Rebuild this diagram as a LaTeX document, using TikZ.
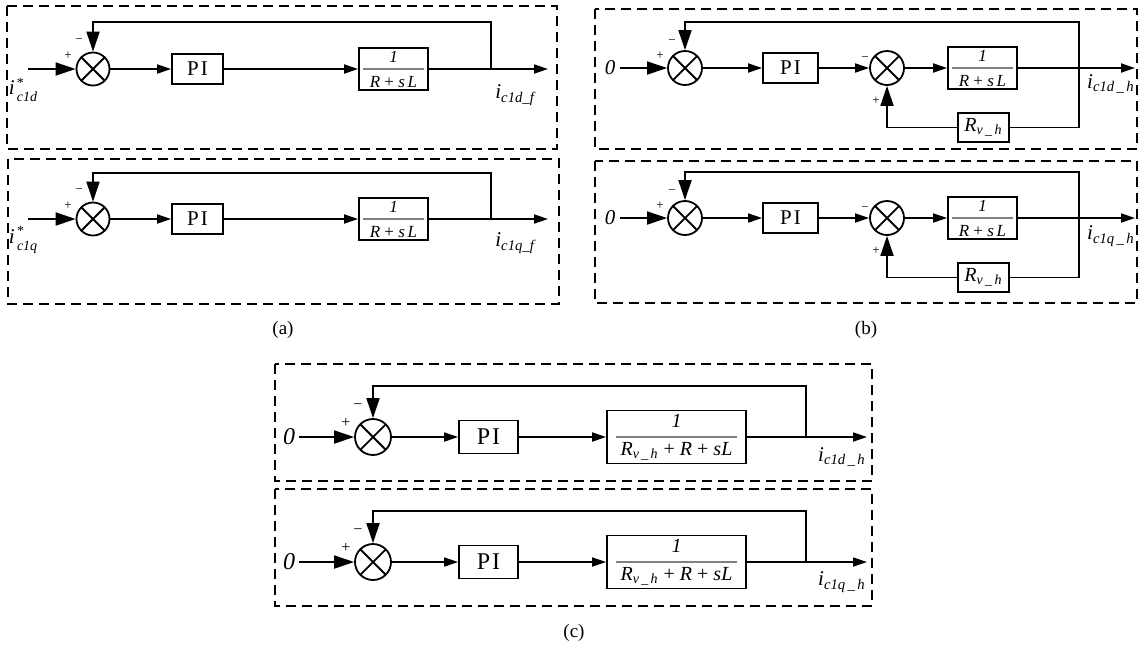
\documentclass[tikz,border=0pt]{standalone}
\usepackage{fontspec}
\setmainfont{Liberation Serif}
\usetikzlibrary{arrows.meta}
\newcommand{\starsub}[1]{\textit{i}\kern1.2pt\raisebox{-3.5pt}{\shortstack[l]{\fontsize{7}{7}\selectfont *\\[-0.5pt]\fontsize{7}{7}\selectfont\textit{#1}}}}
\tikzset{
    frame/.style={
        draw,
        dash pattern=on 5pt off 3pt,
        line width=0.75pt
    },
    sumnode/.style={
        circle,
        draw,
        line width=0.9pt,
        minimum size=16.5pt,
        inner sep=0pt,
        path picture={
            \draw[line width=0.9pt]
                (path picture bounding box.north west) -- (path picture bounding box.south east)
                (path picture bounding box.north east) -- (path picture bounding box.south west);
        }
    },
    piblock/.style={
        draw,
        line width=0.9pt,
        minimum width=25.5pt,
        minimum height=15pt,
        inner sep=0pt,
        font=\fontsize{10.5}{12}\selectfont
    },
    tfblock/.style={
        draw,
        line width=0.9pt,
        minimum width=34.5pt,
        minimum height=21pt,
        inner sep=0pt,
        align=center,
        font=\fontsize{8.5}{12.5}\selectfont
    },
    rvblock/.style={
        draw,
        line width=0.9pt,
        minimum width=25.5pt,
        minimum height=14.5pt,
        inner sep=0pt,
        font=\fontsize{10}{12}\selectfont
    },
    fracbar/.style={
        gray,
        line width=0.6pt
    },
    line/.style={
        -{Triangle[length=7pt,width=4.5pt]},
        line width=0.9pt
    },
    bigline/.style={
        -{Triangle[length=10pt,width=6.5pt]},
        line width=0.9pt
    },
    wire/.style={
        line width=0.9pt
    },
    signlabel/.style={
        inner sep=0pt,
        font=\fontsize{6.5}{7}\selectfont
    },
    siglabel/.style={
        inner sep=2pt,
        font=\fontsize{10.5}{11}\selectfont
    },
    caption/.style={
        font=\fontsize{9.5}{11}\selectfont
    }
}

\begin{document}
\begin{tikzpicture}[x=0.5pt, y=-0.5pt]

    \useasboundingbox (0,0) rectangle (1139,645);

    % (a) d-axis
    \draw[frame] (7,6) rectangle (557,149);
    \coordinate (a1in) at (28,69);
    \node[sumnode] (a1sum) at (93,69) {};
    \node[piblock] (a1pi) at (197.5,69) {P\kern1pt I};
    \node[tfblock] (a1tf) at (393.5,69) {\textit{1}\\\textit{R} + \textit{s\,L}};
    \coordinate (a1br) at (491,69);
    \coordinate (a1top) at (491,22);
    \coordinate (a1out) at (548,69);
    \node[siglabel] (a1ref) at (23,90) {\starsub{c1d}};
    \node[siglabel] (a1lab) at (516,95) {\textit{i}\textsubscript{\textit{c1d\_f}}};
    \node[signlabel] (a1plus) at (68,56) {+};
    \node[signlabel] (a1minus) at (79,41) {−};

    \draw[bigline] (a1in) -- (a1sum);
    \draw[line] (a1sum) -- (a1pi);
    \draw[line] (a1pi) -- (a1tf);
    \draw[line] (a1tf) -- (a1out);
    \draw[bigline] (a1br) -- (a1top) -| (a1sum);
    \draw[fracbar] ([xshift=2.5pt]a1tf.west) -- ([xshift=-2.5pt]a1tf.east);

    % (a) q-axis
    \draw[frame] (8,159) rectangle (559,304);
    \coordinate (a2in) at (28,219);
    \node[sumnode] (a2sum) at (93,219) {};
    \node[piblock] (a2pi) at (197.5,219) {P\kern1pt I};
    \node[tfblock] (a2tf) at (393.5,219) {\textit{1}\\\textit{R} + \textit{s\,L}};
    \coordinate (a2br) at (491,219);
    \coordinate (a2top) at (491,173);
    \coordinate (a2out) at (548,219);
    \node[siglabel] (a2ref) at (23,240) {\starsub{c1q}};
    \node[siglabel] (a2lab) at (516,243) {\textit{i}\textsubscript{\textit{c1q\_f}}};
    \node[signlabel] (a2plus) at (68,206) {+};
    \node[signlabel] (a2minus) at (79,191) {−};

    \draw[bigline] (a2in) -- (a2sum);
    \draw[line] (a2sum) -- (a2pi);
    \draw[line] (a2pi) -- (a2tf);
    \draw[line] (a2tf) -- (a2out);
    \draw[bigline] (a2br) -- (a2top) -| (a2sum);
    \draw[fracbar] ([xshift=2.5pt]a2tf.west) -- ([xshift=-2.5pt]a2tf.east);

    \node[caption] (acap) at (283,330) {(a)};

    % (b) d-axis
    \draw[frame] (595,9) rectangle (1137,149);
    \node[siglabel] (b1zero) at (610,68) {\textit{0}};
    \node[sumnode, minimum size=17pt] (b1sum) at (685,68) {};
    \node[piblock, minimum width=27.5pt] (b1pi) at (790.5,68) {P\kern1pt I};
    \node[sumnode, minimum size=17pt] (b1sum2) at (887,68) {};
    \node[tfblock] (b1tf) at (982.5,68) {\textit{1}\\\textit{R} + \textit{s\,L}};
    \node[rvblock] (b1rv) at (983.5,127.5) {\textit{R}\textsubscript{\textit{v\,\_\,h}}};
    \coordinate (b1br) at (1079,68);
    \coordinate (b1top) at (1079,22);
    \coordinate (b1out) at (1135,68);
    \node[siglabel] (b1lab) at (1111,84) {\textit{i}\textsubscript{\textit{c1d\,\_\,h}}};
    \node[signlabel] (b1plus) at (660,56) {+};
    \node[signlabel] (b1minus) at (672,42) {−};
    \node[signlabel] (b1minus2) at (865,59) {−};
    \node[signlabel] (b1plus2) at (876,101) {+};

    \draw[bigline] (b1zero) -- (b1sum);
    \draw[line] (b1sum) -- (b1pi);
    \draw[line] (b1pi) -- (b1sum2);
    \draw[line] (b1sum2) -- (b1tf);
    \draw[line] (b1tf) -- (b1out);
    \draw[bigline] (b1br) -- (b1top) -| (b1sum);
    \draw[wire] (b1br) |- (b1rv);
    \draw[bigline] (b1rv) -| (b1sum2);
    \draw[fracbar] ([xshift=2.5pt]b1tf.west) -- ([xshift=-2.5pt]b1tf.east);

    % (b) q-axis
    \draw[frame] (595,161) rectangle (1137,303);
    \node[siglabel] (b2zero) at (610,218) {\textit{0}};
    \node[sumnode, minimum size=17pt] (b2sum) at (685,218) {};
    \node[piblock, minimum width=27.5pt] (b2pi) at (790.5,218) {P\kern1pt I};
    \node[sumnode, minimum size=17pt] (b2sum2) at (887,218) {};
    \node[tfblock] (b2tf) at (982.5,218) {\textit{1}\\\textit{R} + \textit{s\,L}};
    \node[rvblock] (b2rv) at (983.5,277.5) {\textit{R}\textsubscript{\textit{v\,\_\,h}}};
    \coordinate (b2br) at (1079,218);
    \coordinate (b2top) at (1079,172);
    \coordinate (b2out) at (1135,218);
    \node[siglabel] (b2lab) at (1111,236) {\textit{i}\textsubscript{\textit{c1q\,\_\,h}}};
    \node[signlabel] (b2plus) at (660,206) {+};
    \node[signlabel] (b2minus) at (672,192) {−};
    \node[signlabel] (b2minus2) at (865,209) {−};
    \node[signlabel] (b2plus2) at (876,251) {+};

    \draw[bigline] (b2zero) -- (b2sum);
    \draw[line] (b2sum) -- (b2pi);
    \draw[line] (b2pi) -- (b2sum2);
    \draw[line] (b2sum2) -- (b2tf);
    \draw[line] (b2tf) -- (b2out);
    \draw[bigline] (b2br) -- (b2top) -| (b2sum);
    \draw[wire] (b2br) |- (b2rv);
    \draw[bigline] (b2rv) -| (b2sum2);
    \draw[fracbar] ([xshift=2.5pt]b2tf.west) -- ([xshift=-2.5pt]b2tf.east);

    \node[caption] (bcap) at (866,330) {(b)};

    % (c) d-axis
    \draw[frame] (275,364) rectangle (872,481);
    \node[siglabel, font=\fontsize{12}{13}\selectfont] (c1zero) at (289,437) {\textit{0}};
    \node[sumnode, minimum size=18pt] (c1sum) at (373,437) {};
    \node[piblock, minimum width=29.5pt, minimum height=16.5pt, font=\fontsize{12}{13}\selectfont] (c1pi) at (488.5,437) {P\kern1pt I};
    \node[tfblock, minimum width=69.5pt, minimum height=26.5pt, font=\fontsize{10}{14}\selectfont] (c1tf) at (676.5,437)
        {\textit{1}\\\textit{R}\textsubscript{\textit{v\,\_\,h}} + \textit{R} + \textit{sL}};
    \coordinate (c1br) at (806,437);
    \coordinate (c1top) at (806,386);
    \coordinate (c1out) at (867,437);
    \node[siglabel] (c1lab) at (842,457) {\textit{i}\textsubscript{\textit{c1d\,\_\,h}}};
    \node[signlabel, font=\fontsize{8}{9}\selectfont] (c1plus) at (346,423) {+};
    \node[signlabel, font=\fontsize{8}{9}\selectfont] (c1minus) at (358,407) {−};

    \draw[bigline] (c1zero) -- (c1sum);
    \draw[line] (c1sum) -- (c1pi);
    \draw[line] (c1pi) -- (c1tf);
    \draw[line] (c1tf) -- (c1out);
    \draw[bigline] (c1br) -- (c1top) -| (c1sum);
    \draw[fracbar] ([xshift=5pt]c1tf.west) -- ([xshift=-5pt]c1tf.east);

    % (c) q-axis
    \draw[frame] (275,489) rectangle (872,606);
    \node[siglabel, font=\fontsize{12}{13}\selectfont] (c2zero) at (289,562) {\textit{0}};
    \node[sumnode, minimum size=18pt] (c2sum) at (373,562) {};
    \node[piblock, minimum width=29.5pt, minimum height=16.5pt, font=\fontsize{12}{13}\selectfont] (c2pi) at (488.5,562) {P\kern1pt I};
    \node[tfblock, minimum width=69.5pt, minimum height=26.5pt, font=\fontsize{10}{14}\selectfont] (c2tf) at (676.5,562)
        {\textit{1}\\\textit{R}\textsubscript{\textit{v\,\_\,h}} + \textit{R} + \textit{sL}};
    \coordinate (c2br) at (806,562);
    \coordinate (c2top) at (806,511);
    \coordinate (c2out) at (867,562);
    \node[siglabel] (c2lab) at (842,582) {\textit{i}\textsubscript{\textit{c1q\,\_\,h}}};
    \node[signlabel, font=\fontsize{8}{9}\selectfont] (c2plus) at (346,548) {+};
    \node[signlabel, font=\fontsize{8}{9}\selectfont] (c2minus) at (358,532) {−};

    \draw[bigline] (c2zero) -- (c2sum);
    \draw[line] (c2sum) -- (c2pi);
    \draw[line] (c2pi) -- (c2tf);
    \draw[line] (c2tf) -- (c2out);
    \draw[bigline] (c2br) -- (c2top) -| (c2sum);
    \draw[fracbar] ([xshift=5pt]c2tf.west) -- ([xshift=-5pt]c2tf.east);

    \node[caption] (ccap) at (574,633) {(c)};

\end{tikzpicture}
\end{document}
